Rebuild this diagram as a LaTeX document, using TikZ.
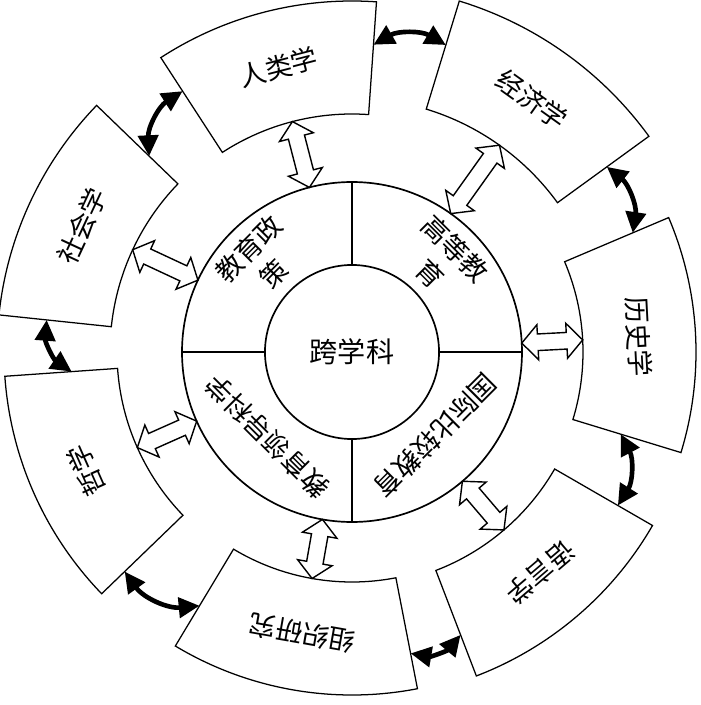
\documentclass[tikz,border=0pt]{standalone}
\usepackage{fontspec}
\usepackage{tikz}
\usetikzlibrary{shapes.arrows, arrows.meta, calc}
\newfontfamily\cjk{Noto Sans CJK SC}
\tikzset{
  sector/.style={draw=black, line width=0.9pt, fill=white},
  ringline/.style={draw=black, line width=1.2pt},
  tagtext/.style={font=\cjk\fontsize{19}{25}\selectfont, align=center, inner sep=0pt},
  linkarrow/.style={
    double arrow, draw=black, line width=1pt, fill=white,
    inner xsep=0pt, inner ysep=0.19cm, double arrow head extend=0.23cm,
    double arrow tip angle=95
  },
  bondarrow/.style={{Triangle[length=0.52cm,width=0.5cm]}-{Triangle[length=0.52cm,width=0.5cm]}, line width=3.3pt}
}
\begin{document}
\begin{tikzpicture}[x=0.025cm, y=0.025cm]
\useasboundingbox (-352,-353) rectangle (348,352);

% outer ring of disciplines
\foreach \a/\b/\r/\ra/\rb/\nm/\txt in {-17/23/231/281/305/hist/历史学,
    36/73/254/315/321/econ/经济学, 86/123/238/308/311/anth/人类学,
    136/174/242/282/307/soc/社会学, 184/224/235/281/316/phil/哲学,
    239/281/230/296/307/org/组织研究, 291/330/234/303/307/ling/语言学} {
  \pgfmathsetmacro\mid{(\a+\b)/2}
  \pgfmathsetmacro\R{\r+113}
  \draw[sector] (\a:\r) arc[start angle=\a, end angle=\b, radius=\r]
    -- (\b:\R) arc[start angle=\b, end angle=\a, radius=\R] -- cycle;
  \node[tagtext, rotate=\mid-90] (\nm) at ({\mid}:{\r+56}) {\txt};
  \coordinate (\nm-in) at ({\mid}:{\r});
  \coordinate (\nm-ring) at ({\mid}:170);
  \coordinate (\nm-a) at (\a:\ra);
  \coordinate (\nm-b) at (\b:\rb);
  \node[linkarrow, rotate=\mid, minimum height={(\r-170)*0.025cm}]
    (\nm-link) at ($(\nm-ring)!0.5!(\nm-in)$) {};
}

% education ring
\draw[ringline] (0,0) circle[radius=170];
\foreach \t in {0,90,180,270}
  \draw[ringline] (\t:87) -- (\t:170);
\node[circle, ringline, fill=white, minimum size=4.35cm, inner sep=0pt,
  font=\cjk\fontsize{20}{24}\selectfont] (core) at (0,0) {跨学科};

\node[tagtext, rotate=45] (policy) at (135:128) {教育政\\策};
\node[tagtext, rotate=-45] (higher) at (45:128) {高等教\\育};
\node[tagtext, rotate=225] (compare) at (315:118) {国际比较教育};
\node[tagtext, rotate=135] (leader) at (225:120) {教育领导科学};

% links between neighbours
\foreach \p/\q in {hist/econ, econ/anth, anth/soc, soc/phil, phil/org, org/ling, ling/hist}
  \draw[bondarrow] (\p-b) to[bend right=30] (\q-a);

\end{tikzpicture}
\end{document}
